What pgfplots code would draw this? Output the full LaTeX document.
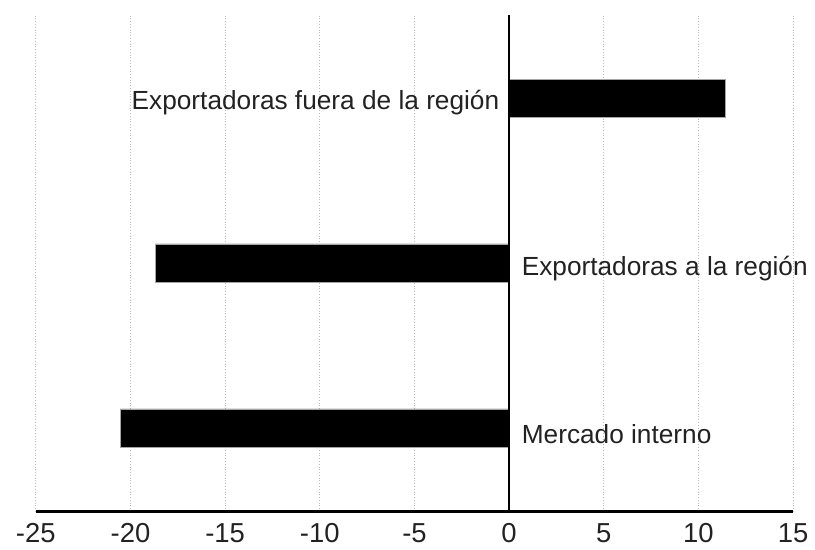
\documentclass[border=0pt]{standalone}
\usepackage{pgfplots}
\pgfplotsset{compat=1.18}
\usepackage{fontspec}
\setmainfont{Liberation Sans}

\definecolor{txt}{HTML}{222222}
\definecolor{gridc}{HTML}{BBBBBB}

\begin{document}
\begin{tikzpicture}[x=1pt,y=1pt]
% invisible frame to fix page size: 815x550 px at 0.5pt/px
\path (0,0) rectangle (407.5,275);
\begin{axis}[at={(18pt,17.5pt)},anchor=south west,
  scale only axis, width=381pt, height=250pt,
  xmin=-25, xmax=15, ymin=0, ymax=500,
  xtick={-25,-20,...,15}, ytick=\empty,
  xmajorgrids, grid style={gridc, densely dotted, line width=0.5pt},
  major tick length=0pt,
  axis x line*=bottom, axis y line=none,
  x axis line style={line width=1.5pt, -},
  tick label style={font=\fontsize{13.8}{15}\selectfont, text=txt},
  xticklabel style={yshift=-2.5pt},
  /pgf/number format/assume math mode=true,
  clip=false]
\addplot[xbar, bar width=19.5pt, fill=black, draw=gray!70, line width=0.3pt]
  coordinates {(11.4,416) (-18.7,250) (-20.55,84)};
\draw[line width=0.75pt, black] (axis cs:0,0) -- (axis cs:0,500);
\node[anchor=east, font=\fontsize{13.2}{15}\selectfont, text=txt] at (axis cs:-0.15,412) {Exportadoras fuera de la región};
\node[anchor=west, font=\fontsize{13.2}{15}\selectfont, text=txt] at (axis cs:0.3,245) {Exportadoras a la región};
\node[anchor=west, font=\fontsize{13.2}{15}\selectfont, text=txt] at (axis cs:0.3,78) {Mercado interno};
\end{axis}
\end{tikzpicture}
\end{document}
